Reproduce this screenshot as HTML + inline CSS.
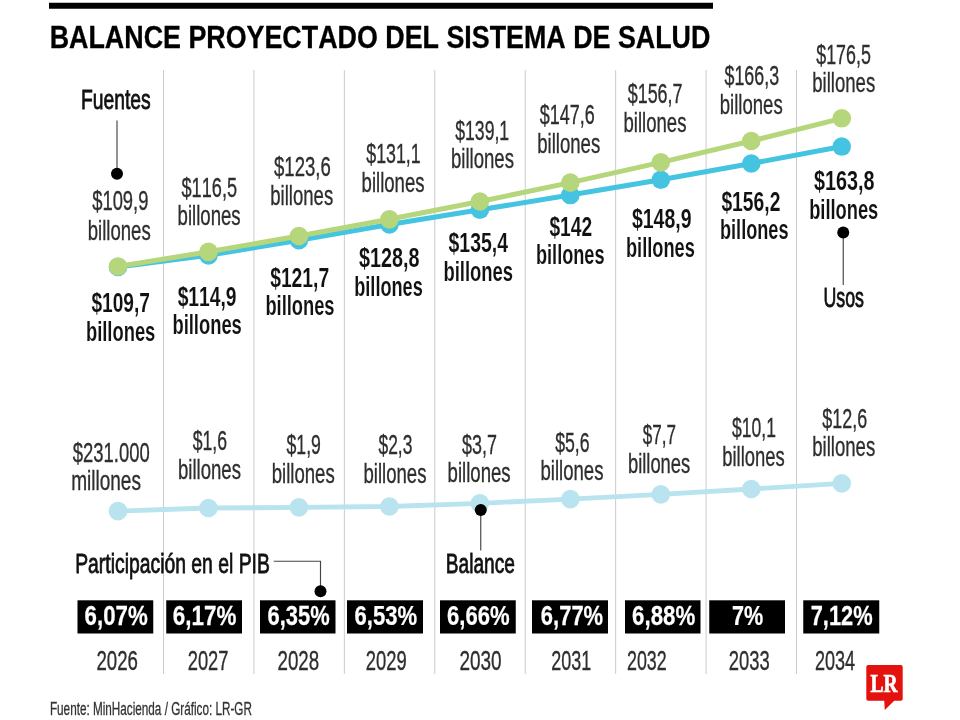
<!DOCTYPE html>
<html lang="es"><head><meta charset="utf-8"><title>Balance proyectado del sistema de salud</title>
<style>
html,body{margin:0;padding:0;background:#fff;}
body{width:960px;height:720px;overflow:hidden;font-family:"Liberation Sans",sans-serif;}
svg{display:block;will-change:transform;}
text{font-kerning:none;font-variant-ligatures:none;white-space:pre;}
</style></head><body>
<svg width="960" height="720" viewBox="0 0 960 720">
<rect width="960" height="720" fill="#fff"/>
<line x1="163.50" y1="70" x2="163.50" y2="674" stroke="#cbcbcb" stroke-width="1"/>
<line x1="253.93" y1="70" x2="253.93" y2="674" stroke="#cbcbcb" stroke-width="1"/>
<line x1="344.36" y1="70" x2="344.36" y2="674" stroke="#cbcbcb" stroke-width="1"/>
<line x1="434.79" y1="70" x2="434.79" y2="674" stroke="#cbcbcb" stroke-width="1"/>
<line x1="525.22" y1="70" x2="525.22" y2="674" stroke="#cbcbcb" stroke-width="1"/>
<line x1="615.65" y1="70" x2="615.65" y2="674" stroke="#cbcbcb" stroke-width="1"/>
<line x1="706.08" y1="70" x2="706.08" y2="674" stroke="#cbcbcb" stroke-width="1"/>
<line x1="796.51" y1="70" x2="796.51" y2="674" stroke="#cbcbcb" stroke-width="1"/>
<rect x="49" y="2.75" width="664" height="6" fill="#000"/>
<text transform="translate(49.70 48.40) scale(0.8690 1)" font-family='"Liberation Sans", sans-serif' font-weight="bold" font-size="30.90" fill="#000" stroke="#000" stroke-width="0.3">BALANCE PROYECTADO DEL SISTEMA DE SALUD</text>
<polyline points="118.00,511.10 208.47,508.03 298.94,507.36 389.41,506.47 479.88,503.33 570.35,499.08 660.82,494.37 751.29,489.00 841.76,483.40" fill="none" stroke="#b8e3ef" stroke-width="4.9" stroke-linejoin="round"/>
<circle cx="118.00" cy="511.10" r="9.3" fill="#b8e3ef"/>
<circle cx="208.47" cy="508.03" r="9.3" fill="#b8e3ef"/>
<circle cx="298.94" cy="507.36" r="9.3" fill="#b8e3ef"/>
<circle cx="389.41" cy="506.47" r="9.3" fill="#b8e3ef"/>
<circle cx="479.88" cy="503.33" r="9.3" fill="#b8e3ef"/>
<circle cx="570.35" cy="499.08" r="9.3" fill="#b8e3ef"/>
<circle cx="660.82" cy="494.37" r="9.3" fill="#b8e3ef"/>
<circle cx="751.29" cy="489.00" r="9.3" fill="#b8e3ef"/>
<circle cx="841.76" cy="483.40" r="9.3" fill="#b8e3ef"/>
<polyline points="118.00,266.95 208.47,255.37 298.94,240.24 389.41,224.44 479.88,209.76 570.35,195.07 660.82,179.72 751.29,163.47 841.76,146.56" fill="none" stroke="#45c4e1" stroke-width="5.0" stroke-linejoin="round"/>
<circle cx="118.00" cy="266.95" r="9.3" fill="#45c4e1"/>
<circle cx="208.47" cy="255.37" r="9.3" fill="#45c4e1"/>
<circle cx="298.94" cy="240.24" r="9.3" fill="#45c4e1"/>
<circle cx="389.41" cy="224.44" r="9.3" fill="#45c4e1"/>
<circle cx="479.88" cy="209.76" r="9.3" fill="#45c4e1"/>
<circle cx="570.35" cy="195.07" r="9.3" fill="#45c4e1"/>
<circle cx="660.82" cy="179.72" r="9.3" fill="#45c4e1"/>
<circle cx="751.29" cy="163.47" r="9.3" fill="#45c4e1"/>
<circle cx="841.76" cy="146.56" r="9.3" fill="#45c4e1"/>
<polyline points="118.00,266.50 208.47,251.81 298.94,236.01 389.41,219.33 479.88,201.52 570.35,182.61 660.82,162.36 751.29,141.00 841.76,118.30" fill="none" stroke="#b5d67b" stroke-width="5.0" stroke-linejoin="round"/>
<circle cx="118.00" cy="266.50" r="9.3" fill="#b5d67b"/>
<circle cx="208.47" cy="251.81" r="9.3" fill="#b5d67b"/>
<circle cx="298.94" cy="236.01" r="9.3" fill="#b5d67b"/>
<circle cx="389.41" cy="219.33" r="9.3" fill="#b5d67b"/>
<circle cx="479.88" cy="201.52" r="9.3" fill="#b5d67b"/>
<circle cx="570.35" cy="182.61" r="9.3" fill="#b5d67b"/>
<circle cx="660.82" cy="162.36" r="9.3" fill="#b5d67b"/>
<circle cx="751.29" cy="141.00" r="9.3" fill="#b5d67b"/>
<circle cx="841.76" cy="118.30" r="9.3" fill="#b5d67b"/>
<line x1="117.00" y1="120.50" x2="117.00" y2="173.70" stroke="#444" stroke-width="1.15"/>
<circle cx="117.00" cy="173.70" r="6" fill="#000"/>
<line x1="843.25" y1="232.50" x2="843.25" y2="285.00" stroke="#444" stroke-width="1.15"/>
<circle cx="843.25" cy="232.50" r="6" fill="#000"/>
<line x1="480.75" y1="510.00" x2="480.75" y2="550.50" stroke="#444" stroke-width="1.15"/>
<circle cx="480.75" cy="510.00" r="6" fill="#000"/>
<polyline points="273.75,561.25 320.5,561.25 320.5,591.25" fill="none" stroke="#444" stroke-width="1.15"/>
<circle cx="320.5" cy="591.25" r="6" fill="#000"/>
<text transform="translate(80.92 109.30) scale(0.7023 1)" font-family='"Liberation Sans", sans-serif' font-weight="normal" font-size="27.50" fill="#111" stroke="#111" stroke-width="0.8">Fuentes</text>
<text transform="translate(823.53 306.50) scale(0.6458 1)" font-family='"Liberation Sans", sans-serif' font-weight="normal" font-size="27.50" fill="#111" stroke="#111" stroke-width="0.8">Usos</text>
<text transform="translate(75.21 573.20) scale(0.7037 1)" font-family='"Liberation Sans", sans-serif' font-weight="normal" font-size="27.50" fill="#111" stroke="#111" stroke-width="0.8">Participación en el PIB</text>
<text transform="translate(445.83 572.80) scale(0.6955 1)" font-family='"Liberation Sans", sans-serif' font-weight="normal" font-size="27.50" fill="#111" stroke="#111" stroke-width="0.8">Balance</text>
<text transform="translate(92.20 210.40) scale(0.6478 1)" font-family='"Liberation Sans", sans-serif' font-weight="normal" font-size="28.40" fill="#2e2e2e" stroke="#2e2e2e" stroke-width="0.35">$109,9</text>
<text transform="translate(87.70 239.70) scale(0.6838 1)" font-family='"Liberation Sans", sans-serif' font-weight="normal" font-size="27.20" fill="#2e2e2e" stroke="#2e2e2e" stroke-width="0.35">billones</text>
<text transform="translate(181.51 196.50) scale(0.6390 1)" font-family='"Liberation Sans", sans-serif' font-weight="normal" font-size="28.40" fill="#2e2e2e" stroke="#2e2e2e" stroke-width="0.35">$116,5</text>
<text transform="translate(177.55 225.40) scale(0.6843 1)" font-family='"Liberation Sans", sans-serif' font-weight="normal" font-size="27.20" fill="#2e2e2e" stroke="#2e2e2e" stroke-width="0.35">billones</text>
<text transform="translate(274.00 175.90) scale(0.6541 1)" font-family='"Liberation Sans", sans-serif' font-weight="normal" font-size="28.40" fill="#2e2e2e" stroke="#2e2e2e" stroke-width="0.35">$123,6</text>
<text transform="translate(270.31 204.50) scale(0.6815 1)" font-family='"Liberation Sans", sans-serif' font-weight="normal" font-size="27.20" fill="#2e2e2e" stroke="#2e2e2e" stroke-width="0.35">billones</text>
<text transform="translate(366.21 163.30) scale(0.6281 1)" font-family='"Liberation Sans", sans-serif' font-weight="normal" font-size="28.40" fill="#2e2e2e" stroke="#2e2e2e" stroke-width="0.35">$131,1</text>
<text transform="translate(361.60 191.80) scale(0.6827 1)" font-family='"Liberation Sans", sans-serif' font-weight="normal" font-size="27.20" fill="#2e2e2e" stroke="#2e2e2e" stroke-width="0.35">billones</text>
<text transform="translate(455.21 140.30) scale(0.6217 1)" font-family='"Liberation Sans", sans-serif' font-weight="normal" font-size="28.40" fill="#2e2e2e" stroke="#2e2e2e" stroke-width="0.35">$139,1</text>
<text transform="translate(450.95 168.00) scale(0.6838 1)" font-family='"Liberation Sans", sans-serif' font-weight="normal" font-size="27.20" fill="#2e2e2e" stroke="#2e2e2e" stroke-width="0.35">billones</text>
<text transform="translate(539.71 124.10) scale(0.6324 1)" font-family='"Liberation Sans", sans-serif' font-weight="normal" font-size="28.40" fill="#2e2e2e" stroke="#2e2e2e" stroke-width="0.35">$147,6</text>
<text transform="translate(537.20 152.90) scale(0.6838 1)" font-family='"Liberation Sans", sans-serif' font-weight="normal" font-size="27.20" fill="#2e2e2e" stroke="#2e2e2e" stroke-width="0.35">billones</text>
<text transform="translate(627.71 102.80) scale(0.6308 1)" font-family='"Liberation Sans", sans-serif' font-weight="normal" font-size="28.40" fill="#2e2e2e" stroke="#2e2e2e" stroke-width="0.35">$156,7</text>
<text transform="translate(623.45 131.60) scale(0.6838 1)" font-family='"Liberation Sans", sans-serif' font-weight="normal" font-size="27.20" fill="#2e2e2e" stroke="#2e2e2e" stroke-width="0.35">billones</text>
<text transform="translate(724.46 84.60) scale(0.6295 1)" font-family='"Liberation Sans", sans-serif' font-weight="normal" font-size="28.40" fill="#2e2e2e" stroke="#2e2e2e" stroke-width="0.35">$166,3</text>
<text transform="translate(719.70 113.60) scale(0.6838 1)" font-family='"Liberation Sans", sans-serif' font-weight="normal" font-size="27.20" fill="#2e2e2e" stroke="#2e2e2e" stroke-width="0.35">billones</text>
<text transform="translate(816.21 64.10) scale(0.6291 1)" font-family='"Liberation Sans", sans-serif' font-weight="normal" font-size="28.40" fill="#2e2e2e" stroke="#2e2e2e" stroke-width="0.35">$176,5</text>
<text transform="translate(812.20 92.10) scale(0.6838 1)" font-family='"Liberation Sans", sans-serif' font-weight="normal" font-size="27.20" fill="#2e2e2e" stroke="#2e2e2e" stroke-width="0.35">billones</text>
<text transform="translate(91.40 312.30) scale(0.6860 1)" font-family='"Liberation Sans", sans-serif' font-weight="bold" font-size="27.90" fill="#111" stroke="#fff" stroke-width="0.1">$109,7</text>
<text transform="translate(85.94 341.00) scale(0.6804 1)" font-family='"Liberation Sans", sans-serif' font-weight="bold" font-size="27.00" fill="#111" stroke="#fff" stroke-width="0.1">billones</text>
<text transform="translate(177.65 306.30) scale(0.6904 1)" font-family='"Liberation Sans", sans-serif' font-weight="bold" font-size="27.90" fill="#111" stroke="#fff" stroke-width="0.1">$114,9</text>
<text transform="translate(172.44 334.30) scale(0.6804 1)" font-family='"Liberation Sans", sans-serif' font-weight="bold" font-size="27.00" fill="#111" stroke="#fff" stroke-width="0.1">billones</text>
<text transform="translate(270.15 286.60) scale(0.6920 1)" font-family='"Liberation Sans", sans-serif' font-weight="bold" font-size="27.90" fill="#111" stroke="#fff" stroke-width="0.1">$121,7</text>
<text transform="translate(265.44 315.00) scale(0.6779 1)" font-family='"Liberation Sans", sans-serif' font-weight="bold" font-size="27.00" fill="#111" stroke="#fff" stroke-width="0.1">billones</text>
<text transform="translate(358.89 267.10) scale(0.7098 1)" font-family='"Liberation Sans", sans-serif' font-weight="bold" font-size="27.90" fill="#111" stroke="#fff" stroke-width="0.1">$128,8</text>
<text transform="translate(354.20 295.50) scale(0.6729 1)" font-family='"Liberation Sans", sans-serif' font-weight="bold" font-size="27.00" fill="#111" stroke="#fff" stroke-width="0.1">billones</text>
<text transform="translate(448.49 251.80) scale(0.6974 1)" font-family='"Liberation Sans", sans-serif' font-weight="bold" font-size="27.90" fill="#111" stroke="#fff" stroke-width="0.1">$135,4</text>
<text transform="translate(443.38 280.70) scale(0.6830 1)" font-family='"Liberation Sans", sans-serif' font-weight="bold" font-size="27.00" fill="#111" stroke="#fff" stroke-width="0.1">billones</text>
<text transform="translate(549.40 235.90) scale(0.6883 1)" font-family='"Liberation Sans", sans-serif' font-weight="bold" font-size="27.90" fill="#111" stroke="#fff" stroke-width="0.1">$142</text>
<text transform="translate(535.95 264.30) scale(0.6729 1)" font-family='"Liberation Sans", sans-serif' font-weight="bold" font-size="27.00" fill="#111" stroke="#fff" stroke-width="0.1">billones</text>
<text transform="translate(631.89 228.40) scale(0.6994 1)" font-family='"Liberation Sans", sans-serif' font-weight="bold" font-size="27.90" fill="#111" stroke="#fff" stroke-width="0.1">$148,9</text>
<text transform="translate(625.95 256.80) scale(0.6754 1)" font-family='"Liberation Sans", sans-serif' font-weight="bold" font-size="27.00" fill="#111" stroke="#fff" stroke-width="0.1">billones</text>
<text transform="translate(721.40 210.90) scale(0.6911 1)" font-family='"Liberation Sans", sans-serif' font-weight="bold" font-size="27.90" fill="#111" stroke="#fff" stroke-width="0.1">$156,2</text>
<text transform="translate(719.95 239.20) scale(0.6729 1)" font-family='"Liberation Sans", sans-serif' font-weight="bold" font-size="27.00" fill="#111" stroke="#fff" stroke-width="0.1">billones</text>
<text transform="translate(813.89 190.40) scale(0.7098 1)" font-family='"Liberation Sans", sans-serif' font-weight="bold" font-size="27.90" fill="#111" stroke="#fff" stroke-width="0.1">$163,8</text>
<text transform="translate(809.19 218.80) scale(0.6779 1)" font-family='"Liberation Sans", sans-serif' font-weight="bold" font-size="27.00" fill="#111" stroke="#fff" stroke-width="0.1">billones</text>
<text transform="translate(72.70 461.60) scale(0.6511 1)" font-family='"Liberation Sans", sans-serif' font-weight="normal" font-size="28.40" fill="#2e2e2e" stroke="#2e2e2e" stroke-width="0.35">$231.000</text>
<text transform="translate(71.13 490.40) scale(0.7007 1)" font-family='"Liberation Sans", sans-serif' font-weight="normal" font-size="27.20" fill="#2e2e2e" stroke="#2e2e2e" stroke-width="0.35">millones</text>
<text transform="translate(192.71 450.40) scale(0.6227 1)" font-family='"Liberation Sans", sans-serif' font-weight="normal" font-size="28.40" fill="#2e2e2e" stroke="#2e2e2e" stroke-width="0.35">$1,6</text>
<text transform="translate(177.95 479.20) scale(0.6838 1)" font-family='"Liberation Sans", sans-serif' font-weight="normal" font-size="27.20" fill="#2e2e2e" stroke="#2e2e2e" stroke-width="0.35">billones</text>
<text transform="translate(286.46 454.20) scale(0.6238 1)" font-family='"Liberation Sans", sans-serif' font-weight="normal" font-size="28.40" fill="#2e2e2e" stroke="#2e2e2e" stroke-width="0.35">$1,9</text>
<text transform="translate(271.70 482.90) scale(0.6838 1)" font-family='"Liberation Sans", sans-serif' font-weight="normal" font-size="27.20" fill="#2e2e2e" stroke="#2e2e2e" stroke-width="0.35">billones</text>
<text transform="translate(378.46 454.20) scale(0.6133 1)" font-family='"Liberation Sans", sans-serif' font-weight="normal" font-size="28.40" fill="#2e2e2e" stroke="#2e2e2e" stroke-width="0.35">$2,3</text>
<text transform="translate(363.45 482.90) scale(0.6838 1)" font-family='"Liberation Sans", sans-serif' font-weight="normal" font-size="27.20" fill="#2e2e2e" stroke="#2e2e2e" stroke-width="0.35">billones</text>
<text transform="translate(462.11 453.50) scale(0.6313 1)" font-family='"Liberation Sans", sans-serif' font-weight="normal" font-size="28.40" fill="#2e2e2e" stroke="#2e2e2e" stroke-width="0.35">$3,7</text>
<text transform="translate(447.55 481.50) scale(0.6843 1)" font-family='"Liberation Sans", sans-serif' font-weight="normal" font-size="27.20" fill="#2e2e2e" stroke="#2e2e2e" stroke-width="0.35">billones</text>
<text transform="translate(555.21 451.60) scale(0.6227 1)" font-family='"Liberation Sans", sans-serif' font-weight="normal" font-size="28.40" fill="#2e2e2e" stroke="#2e2e2e" stroke-width="0.35">$5,6</text>
<text transform="translate(540.45 480.00) scale(0.6838 1)" font-family='"Liberation Sans", sans-serif' font-weight="normal" font-size="27.20" fill="#2e2e2e" stroke="#2e2e2e" stroke-width="0.35">billones</text>
<text transform="translate(642.72 444.20) scale(0.6014 1)" font-family='"Liberation Sans", sans-serif' font-weight="normal" font-size="28.40" fill="#2e2e2e" stroke="#2e2e2e" stroke-width="0.35">$7,7</text>
<text transform="translate(627.97 472.90) scale(0.6754 1)" font-family='"Liberation Sans", sans-serif' font-weight="normal" font-size="27.20" fill="#2e2e2e" stroke="#2e2e2e" stroke-width="0.35">billones</text>
<text transform="translate(731.96 437.40) scale(0.6191 1)" font-family='"Liberation Sans", sans-serif' font-weight="normal" font-size="28.40" fill="#2e2e2e" stroke="#2e2e2e" stroke-width="0.35">$10,1</text>
<text transform="translate(722.21 465.60) scale(0.6782 1)" font-family='"Liberation Sans", sans-serif' font-weight="normal" font-size="27.20" fill="#2e2e2e" stroke="#2e2e2e" stroke-width="0.35">billones</text>
<text transform="translate(822.21 428.40) scale(0.6322 1)" font-family='"Liberation Sans", sans-serif' font-weight="normal" font-size="28.40" fill="#2e2e2e" stroke="#2e2e2e" stroke-width="0.35">$12,6</text>
<text transform="translate(812.20 456.40) scale(0.6838 1)" font-family='"Liberation Sans", sans-serif' font-weight="normal" font-size="27.20" fill="#2e2e2e" stroke="#2e2e2e" stroke-width="0.35">billones</text>
<rect x="77.50" y="600.3" width="75.75" height="33.2" fill="#000"/>
<text transform="translate(84.59 625.40) scale(0.8242 1)" font-family='"Liberation Sans", sans-serif' font-weight="bold" font-size="27.00" fill="#fff" stroke="#fff" stroke-width="0.25">6,07%</text>
<text transform="translate(96.46 670.30) scale(0.6902 1)" font-family='"Liberation Sans", sans-serif' font-weight="normal" font-size="27.00" fill="#2e2e2e" stroke="#2e2e2e" stroke-width="0.35">2026</text>
<rect x="166.25" y="600.3" width="75.75" height="33.2" fill="#000"/>
<text transform="translate(172.83 625.40) scale(0.8309 1)" font-family='"Liberation Sans", sans-serif' font-weight="bold" font-size="27.00" fill="#fff" stroke="#fff" stroke-width="0.25">6,17%</text>
<text transform="translate(187.73 670.30) scale(0.6792 1)" font-family='"Liberation Sans", sans-serif' font-weight="normal" font-size="27.00" fill="#2e2e2e" stroke="#2e2e2e" stroke-width="0.35">2027</text>
<rect x="260.00" y="600.3" width="75.50" height="33.2" fill="#000"/>
<text transform="translate(267.60 625.40) scale(0.8109 1)" font-family='"Liberation Sans", sans-serif' font-weight="bold" font-size="27.00" fill="#fff" stroke="#fff" stroke-width="0.25">6,35%</text>
<text transform="translate(277.46 670.30) scale(0.6944 1)" font-family='"Liberation Sans", sans-serif' font-weight="normal" font-size="27.00" fill="#2e2e2e" stroke="#2e2e2e" stroke-width="0.35">2028</text>
<rect x="347.00" y="600.3" width="76.00" height="33.2" fill="#000"/>
<text transform="translate(354.59 625.40) scale(0.8176 1)" font-family='"Liberation Sans", sans-serif' font-weight="bold" font-size="27.00" fill="#fff" stroke="#fff" stroke-width="0.25">6,53%</text>
<text transform="translate(365.72 670.30) scale(0.6826 1)" font-family='"Liberation Sans", sans-serif' font-weight="normal" font-size="27.00" fill="#2e2e2e" stroke="#2e2e2e" stroke-width="0.35">2029</text>
<rect x="440.00" y="600.3" width="75.75" height="33.2" fill="#000"/>
<text transform="translate(447.09 625.40) scale(0.8176 1)" font-family='"Liberation Sans", sans-serif' font-weight="bold" font-size="27.00" fill="#fff" stroke="#fff" stroke-width="0.25">6,66%</text>
<text transform="translate(459.45 670.30) scale(0.7016 1)" font-family='"Liberation Sans", sans-serif' font-weight="normal" font-size="27.00" fill="#2e2e2e" stroke="#2e2e2e" stroke-width="0.35">2030</text>
<rect x="532.00" y="600.3" width="76.00" height="33.2" fill="#000"/>
<text transform="translate(540.84 625.40) scale(0.8142 1)" font-family='"Liberation Sans", sans-serif' font-weight="bold" font-size="27.00" fill="#fff" stroke="#fff" stroke-width="0.25">6,77%</text>
<text transform="translate(551.25 670.30) scale(0.6656 1)" font-family='"Liberation Sans", sans-serif' font-weight="normal" font-size="27.00" fill="#2e2e2e" stroke="#2e2e2e" stroke-width="0.35">2031</text>
<rect x="625.00" y="600.3" width="75.50" height="33.2" fill="#000"/>
<text transform="translate(632.09 625.40) scale(0.8242 1)" font-family='"Liberation Sans", sans-serif' font-weight="bold" font-size="27.00" fill="#fff" stroke="#fff" stroke-width="0.25">6,88%</text>
<text transform="translate(627.00 670.30) scale(0.6617 1)" font-family='"Liberation Sans", sans-serif' font-weight="normal" font-size="27.00" fill="#2e2e2e" stroke="#2e2e2e" stroke-width="0.35">2032</text>
<rect x="709.25" y="600.3" width="75.75" height="33.2" fill="#000"/>
<text transform="translate(731.97 625.40) scale(0.7994 1)" font-family='"Liberation Sans", sans-serif' font-weight="bold" font-size="27.00" fill="#fff" stroke="#fff" stroke-width="0.25">7%</text>
<text transform="translate(728.72 670.30) scale(0.6815 1)" font-family='"Liberation Sans", sans-serif' font-weight="normal" font-size="27.00" fill="#2e2e2e" stroke="#2e2e2e" stroke-width="0.35">2033</text>
<rect x="803.25" y="600.3" width="76.00" height="33.2" fill="#000"/>
<text transform="translate(810.71 625.40) scale(0.8094 1)" font-family='"Liberation Sans", sans-serif' font-weight="bold" font-size="27.00" fill="#fff" stroke="#fff" stroke-width="0.25">7,12%</text>
<text transform="translate(814.99 670.30) scale(0.6682 1)" font-family='"Liberation Sans", sans-serif' font-weight="normal" font-size="27.00" fill="#2e2e2e" stroke="#2e2e2e" stroke-width="0.35">2034</text>
<text transform="translate(49.94 714.60) scale(0.6449 1)" font-family='"Liberation Sans", sans-serif' font-weight="normal" font-size="18.20" fill="#333" stroke="#333" stroke-width="0.3">Fuente: MinHacienda / Gráfico: LR-GR</text>
<path d="M868.2 665.1 H900.8 Q902.7 665.1 902.7 667 V699 Q902.7 700.8 900.8 700.8 H894.2 L884.8 710 L884.2 700.8 H868.2 Q866.3 700.8 866.3 699 V667 Q866.3 665.1 868.2 665.1 Z" fill="#e3120f"/>
<text transform="translate(870.47 691.60) scale(0.7493 1)" font-family='"Liberation Serif", serif' font-weight="bold" font-size="26.00" fill="#fff" stroke="#fff" stroke-width="0.7">LR</text>
</svg>
</body></html>
